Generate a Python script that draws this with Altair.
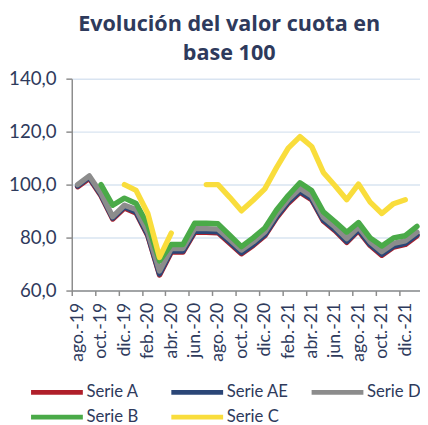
import altair as alt
import pandas as pd

months = ["ago.-19", "sep.-19", "oct.-19", "nov.-19", "dic.-19", "ene.-20",
          "feb.-20", "mar.-20", "abr.-20", "may.-20", "jun.-20", "jul.-20",
          "ago.-20", "sep.-20", "oct.-20", "nov.-20", "dic.-20", "ene.-21",
          "feb.-21", "mar.-21", "abr.-21", "may.-21", "jun.-21", "jul.-21",
          "ago.-21", "sep.-21", "oct.-21", "nov.-21", "dic.-21", "ene.-22"]

serie_a = [99.2, 102.4, 95.8, 87.0, 91.2, 89.3, 80.7, 65.9, 74.5, 74.5,
           82.0, 82.0, 81.8, 77.9, 73.9, 77.0, 80.7, 87.5, 93.0, 97.1,
           94.3, 86.3, 82.6, 78.2, 82.6, 77.0, 73.3, 76.4, 77.4, 80.7]
serie_ae = [99.5, 102.8, 96.2, 87.4, 91.6, 89.7, 81.1, 66.3, 74.9, 74.9,
            82.4, 82.4, 82.2, 78.3, 74.3, 77.4, 81.1, 87.9, 93.4, 97.5,
            94.7, 86.7, 83.0, 78.6, 83.0, 77.4, 73.7, 76.8, 77.8, 81.1]
serie_d = [100.0, 103.3, 96.7, 87.9, 92.2, 90.6, 82.0, 67.4, 75.9, 75.9,
           83.4, 83.4, 83.2, 79.3, 75.3, 78.4, 82.1, 88.9, 94.4, 98.5,
           95.7, 87.7, 84.0, 79.6, 84.0, 78.4, 74.7, 77.8, 78.8, 82.1]
serie_b = [None, None, 100.0, 92.2, 94.9, 92.9, 84.8, 71.2, 77.4, 77.4,
           85.4, 85.4, 85.2, 80.9, 76.6, 79.9, 83.6, 90.4, 95.9, 100.7,
           97.8, 89.7, 86.0, 82.0, 85.7, 79.9, 76.8, 79.9, 80.7, 84.2]
serie_c = [None, None, None, None, 100.0, 97.8, 89.1, 72.5, 81.7, None,
           None, 100.0, 100.0, 95.2, 90.1, 94.1, 98.4, 106.4, 113.8, 118.1,
           114.4, 104.6, 99.6, 94.3, 100.2, 93.4, 89.1, 92.8, 94.3, None]

series_names = ["Serie A", "Serie AE", "Serie D", "Serie B", "Serie C"]
series_colors = ["#b01f2a", "#2b4677", "#8c8c8c", "#4aaa48", "#f9dd3c"]
series_values = [serie_a, serie_ae, serie_d, serie_b, serie_c]

y_ticks = [60, 80, 100, 120, 140]
x_labels = months[0::2]

rows = []
for name, vals in zip(series_names, series_values):
    seg = 0
    for i, v in enumerate(vals):
        if v is None:
            seg += 1
            continue
        rows.append({"i": i, "mes": months[i], "valor": v, "serie": name,
                     "seg": f"{name}-{seg}"})
df = pd.DataFrame(rows)

x_tick_values = [-0.5 + 2 * k for k in range(len(x_labels))]
label_expr = ("[" + ",".join(f"'{m}'" for m in x_labels) +
              "][round((datum.value + 0.5) / 2)]")

text_color = "#2e3a5c"
axis_gray = "#8c8c8c"

chart = alt.Chart(df).mark_line(
    strokeWidth=5.5, strokeCap="round", strokeJoin="round"
).encode(
    x=alt.X("i:Q", scale=alt.Scale(domain=[-0.5, 29.26], nice=False, zero=False),
            axis=alt.Axis(values=x_tick_values, labelExpr=label_expr, labelAngle=-90,
                          labelOffset=6, grid=False, tickSize=5, labelPadding=7,
                          domainColor=axis_gray, domainWidth=1.5, tickColor=axis_gray,
                          tickWidth=1.5, labelFontSize=18, labelFont="Lato",
                          labelColor=text_color, labelFlush=False, labelOverlap=False,
                          labelBound=False, title=None)),
    y=alt.Y("valor:Q", scale=alt.Scale(domain=[60, 140], nice=False, zero=False),
            axis=alt.Axis(values=y_ticks,
                          labelExpr="replace(format(datum.value, '.1f'), '.', ',')",
                          grid=True, gridColor="#d9e4f1", gridWidth=1.5,
                          domainColor=axis_gray, domainWidth=1.5, tickColor=axis_gray,
                          tickWidth=1.5, tickSize=6, labelPadding=10, labelFontSize=19,
                          labelFont="Lato", labelColor=text_color, title=None)),
    color=alt.Color("serie:N",
                    scale=alt.Scale(domain=series_names, range=series_colors),
                    legend=alt.Legend(orient="none", legendX=-47, legendY=311,
                                      direction="horizontal", columns=3,
                                      symbolType="M-1,0H16.6", symbolSize=36,
                                      symbolStrokeWidth=5, labelFontSize=17,
                                      labelFont="Lato", labelColor=text_color,
                                      columnPadding=12, rowPadding=4.5,
                                      gridAlign="all", labelOffset=45, title=None)),
    detail="seg:N",
    order="i:Q",
).properties(
    width=355,
    height=216,
    autosize=alt.AutoSizeParams(type="none"),
    padding={"left": 65, "top": 68, "right": 0, "bottom": 133},
    title=alt.TitleParams(
        text=["Evolución del valor cuota en", "base 100"],
        fontSize=22, font="Open Sans", fontWeight="bold", color=text_color,
        anchor="middle", dx=-17, offset=5, lineHeight=30,
    ),
).configure_view(stroke=None)

chart.save("out.html", embed_options={"renderer": "svg", "actions": False})
